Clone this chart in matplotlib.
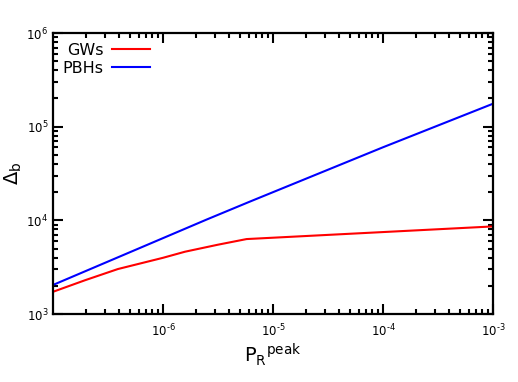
import numpy as np
import matplotlib
matplotlib.use("Agg")
import matplotlib.pyplot as plt
from matplotlib.ticker import LogLocator, FixedLocator, NullFormatter

# data (log10 values)
gw_logx = [-7.0, -6.71, -6.41, -6.0, -5.8, -5.5, -5.24, -3.0]
gw_logy = [3.237, 3.36, 3.48, 3.60, 3.665, 3.74, 3.80, 3.935]
pbh_logx = [-7.0, -6.5, -6.0, -5.6, -5.21, -4.0, -3.0]
pbh_logy = [3.31, 3.56, 3.81, 4.01, 4.20, 4.78, 5.245]

xticks = [1e-6, 1e-5, 1e-4, 1e-3]
xticklabels = ["10$^{\u20106}$", "10$^{\u20105}$", "10$^{\u20104}$", "10$^{\u20103}$"]
yticks = [1e3, 1e4, 1e5, 1e6]
yticklabels = [r"10$^{3}$", r"10$^{4}$", r"10$^{5}$", r"10$^{6}$"]

plt.rcParams['font.family'] = ['DejaVu Sans']
plt.rcParams['mathtext.fontset'] = 'dejavusans'

fig = plt.figure(figsize=(5.18, 3.82), dpi=100)
ax = fig.add_axes([53/518, 1-314/382, 440/518, 281/382])

ax.plot(10**np.array(gw_logx), 10**np.array(gw_logy), color='#ff0000', lw=1.5, label='GWs')
ax.plot(10**np.array(pbh_logx), 10**np.array(pbh_logy), color='#0000ff', lw=1.5, label='PBHs')

ax.set_xscale('log')
ax.set_yscale('log')
ax.set_xlim(1e-7, 1e-3)
ax.set_ylim(1e3, 1e6)

ax.xaxis.set_major_locator(FixedLocator(xticks))
ax.set_xticklabels(xticklabels, fontsize=8.5)
ax.yaxis.set_major_locator(FixedLocator(yticks))
ax.set_yticklabels(yticklabels, fontsize=8.5)
ax.xaxis.set_minor_locator(LogLocator(base=10, subs=np.arange(2, 10), numticks=20))
ax.yaxis.set_minor_locator(LogLocator(base=10, subs=np.arange(2, 10), numticks=20))
ax.xaxis.set_minor_formatter(NullFormatter())
ax.yaxis.set_minor_formatter(NullFormatter())

ax.tick_params(which='both', direction='in', top=True, right=True, width=1.5)
ax.tick_params(which='major', length=7)
ax.tick_params(which='minor', length=3.5)
ax.tick_params(axis='x', which='major', pad=6)
for s in ax.spines.values():
    s.set_linewidth(1.6)

ax.set_xlabel(r"P$_\mathrm{R}$$^\mathrm{peak}$", fontsize=14, labelpad=2)
ax.set_ylabel(r"$\Delta_\mathrm{b}$", fontsize=14)
ax.yaxis.set_label_coords(-0.065, 0.5)

leg = ax.legend(loc='upper left', frameon=False, markerfirst=False, fontsize=11.5,
                handlelength=2.4, borderaxespad=0.2, labelspacing=0.2, handletextpad=0.5)

fig.savefig('out.png', dpi=100)
